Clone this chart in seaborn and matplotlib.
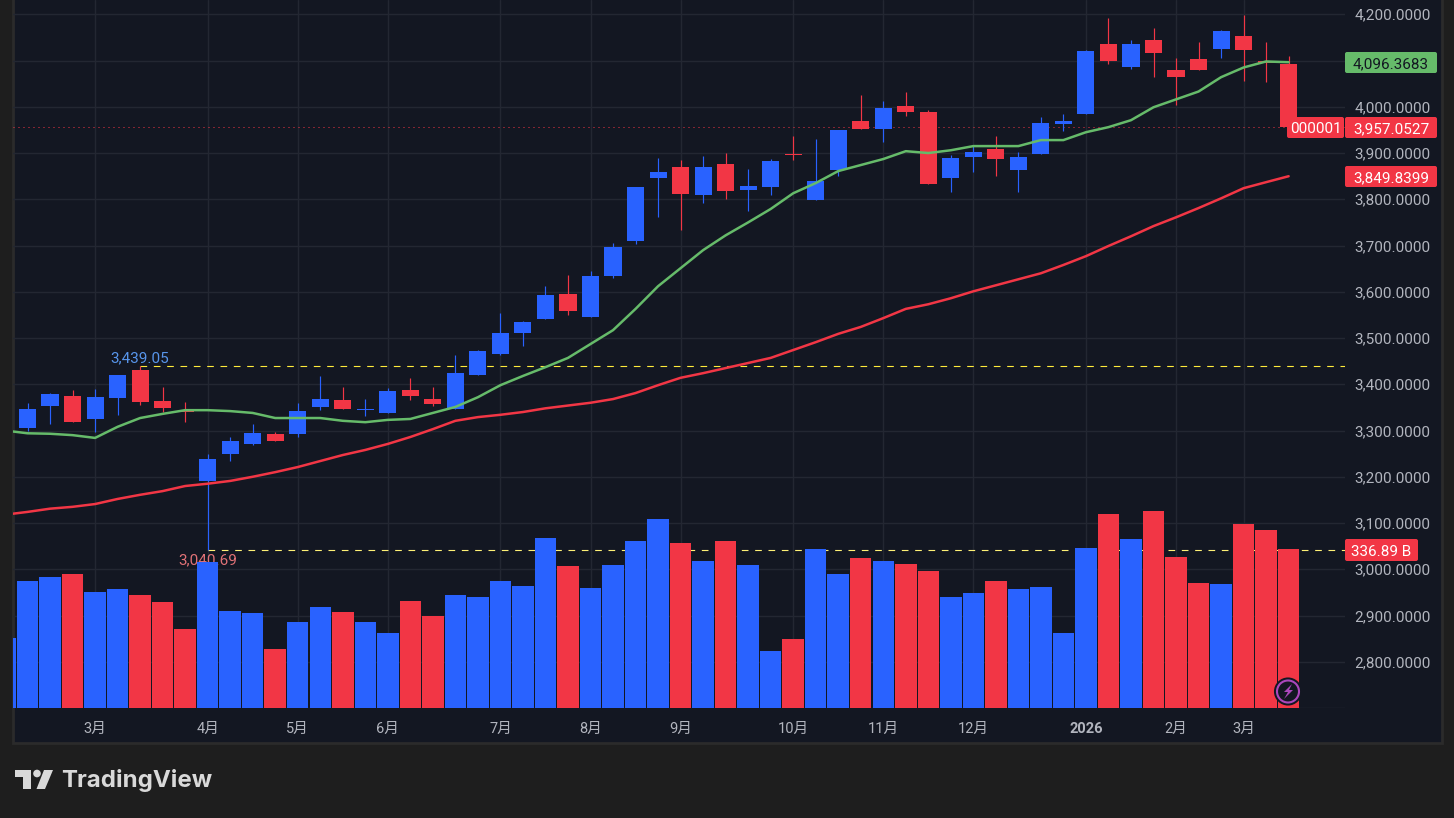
"""Weekly candlestick chart with two moving averages and volume (dark theme)."""
import matplotlib
matplotlib.use("Agg")  # headless-safe backend
import matplotlib.pyplot as plt
import numpy as np
import pandas as pd
import seaborn as sns
from matplotlib.patches import Circle, FancyBboxPatch, Polygon, Rectangle

# data
open_px = [3306, 3353, 3375, 3325, 3370, 3431, 3364, 3342, 3191, 3249, 3271, 3293, 3293, 3351, 3366,
           3345, 3338, 3388, 3368, 3347, 3420, 3465, 3511, 3541, 3595, 3545, 3634, 3709, 3846, 3869,
           3809, 3876, 3820, 3826, 3897, 3798, 3863, 3969, 3951, 4001, 3988, 3846, 3891, 3908, 3863,
           3897, 3962, 3984, 4135, 4087, 4144, 4079, 4103, 4126, 4152, 4098, 4092]
high_px = [3360, 3381, 3388, 3390, 3420, 3439.05, 3394, 3362, 3249, 3286, 3314, 3297, 3360, 3418, 3394,
           3368, 3392, 3414, 3394, 3463, 3475, 3554, 3537, 3612, 3636, 3645, 3705, 3826, 3889, 3884,
           3893, 3900, 3865, 3887, 3936, 3930, 3949, 4025, 4012, 4033, 3992, 3895, 3915, 3936, 3902,
           3977, 3984, 4122, 4191, 4144, 4170, 4105, 4141, 4167, 4198, 4141, 4109]
low_px = [3299, 3314, 3318, 3297, 3334, 3355, 3340, 3318, 3040.69, 3234, 3269, 3277, 3286, 3344, 3347,
          3331, 3338, 3366, 3353, 3347, 3420, 3463, 3483, 3541, 3550, 3545, 3630, 3703, 3761, 3733,
          3791, 3800, 3774, 3809, 3884, 3798, 3850, 3951, 3923, 3979, 3833, 3815, 3858, 3850, 3815,
          3897, 3947, 3984, 4092, 4081, 4064, 4003, 4079, 4105, 4055, 4053, 3957.05]
close_px = [3347, 3379, 3318, 3372, 3420, 3362, 3349, 3340, 3239, 3277, 3295, 3277, 3342, 3368, 3347,
            3346, 3385, 3375, 3357, 3424, 3472, 3511, 3534, 3593, 3558, 3634, 3696, 3826, 3858, 3811,
            3869, 3817, 3828, 3882, 3895, 3839, 3949, 3951, 3997, 3988, 3833, 3889, 3902, 3887, 3891,
            3964, 3969, 4120, 4100, 4135, 4116, 4064, 4079, 4163, 4122, 4094, 3957.05]
# these two also cover the partly hidden week before the first candle
ma_fast = [3300, 3294, 3293, 3290, 3284, 3308, 3327, 3336, 3344, 3344, 3342, 3338, 3327, 3327, 3327,
           3321, 3318, 3323, 3325, 3338, 3351, 3372, 3398, 3418, 3437, 3457, 3487, 3517, 3563, 3612,
           3651, 3690, 3722, 3750, 3779, 3813, 3835, 3861, 3874, 3887, 3904, 3900, 3906, 3915, 3915,
           3915, 3928, 3928, 3945, 3956, 3971, 3999, 4016, 4033, 4064, 4085, 4098, 4096.37]
ma_slow = [3118, 3124, 3131, 3135, 3141, 3152, 3161, 3169, 3180, 3185, 3191, 3200, 3210, 3221, 3234,
           3247, 3258, 3271, 3286, 3303, 3321, 3329, 3334, 3340, 3348, 3354, 3360, 3368, 3381, 3398,
           3414, 3424, 3435, 3446, 3457, 3474, 3491, 3509, 3524, 3543, 3563, 3573, 3586, 3601, 3614,
           3627, 3640, 3658, 3677, 3699, 3720, 3742, 3761, 3781, 3802, 3824, 3837, 3849.84]
volume_b = [148, 269, 278, 284, 246, 252, 239, 225, 167, 309, 206, 201, 125, 182, 214,
            203, 182, 159, 227, 195, 239, 235, 269, 259, 360, 301, 254, 303, 354, 400,
            350, 311, 354, 303, 121, 146, 337, 284, 318, 311, 305, 290, 235, 244, 269,
            252, 256, 159, 339, 411, 358, 417, 320, 265, 263, 390, 377, 336.89]
month_weeks = [3, 8, 12, 16, 21, 25, 29, 34, 38, 42, 47, 51, 54]
month_labels = ["3月", "4月", "5月", "6月", "7月", "8月", "9月", "10月", "11月", "12月", "2026", "2月", "3月"]
price_ticks = list(range(2700, 4300, 100))
hidden_ticks = [2700, 4100]  # no label at the bottom, 4,100 sits under the green tag

BG_OUT = "#1e1e1e"
BG_PANEL = "#131722"
BORDER = "#2b2b2b"
GRID = "#232732"
BLUE = "#2962ff"
RED = "#f23645"
GREEN = "#66bb6a"
LABEL = "#b2b5be"

W, H = 1454, 818

sns.set_theme(style="dark")
plt.rcParams["font.family"] = ["Roboto", "Noto Sans CJK SC", "DejaVu Sans"]

weeks = np.arange(len(open_px))
ma_weeks = np.arange(-1, len(open_px))
is_up = np.array(close_px) >= np.array(open_px)
vol_df = pd.DataFrame({
    "week": ma_weeks,
    "vol": volume_b,
    "side": ["up"] + ["up" if u else "down" for u in is_up],
})

fig = plt.figure(figsize=(W / 100, H / 100), dpi=100, facecolor=BG_OUT)

# panel behind everything, drawn in pixel coordinates
back = fig.add_axes([0, 0, 1, 1], zorder=0)
back.set_xlim(0, W)
back.set_ylim(H, 0)
back.axis("off")
back.add_patch(Rectangle((12.5, -2), 1429.5, 745, fc=BG_PANEL, ec=BORDER, lw=2))

rect = [13 / W, (H - 708) / H, 1332 / W, 708 / H]
x_lim = ((13 - 27.5) / 22.52, (1345 - 27.5) / 22.52)

ax = fig.add_axes(rect, zorder=1)
ax.set_facecolor("none")
ax.set_axisbelow(True)
ax.grid(True, color=GRID, lw=1)

ax.bar(weeks, np.abs(np.array(close_px) - np.array(open_px)),
       bottom=np.minimum(open_px, close_px), width=0.76,
       color=[BLUE if u else RED for u in is_up], linewidth=0, zorder=3)
ax.vlines(weeks, low_px, high_px, colors=[BLUE if u else RED for u in is_up], lw=0.85, zorder=3)

sns.lineplot(x=ma_weeks, y=ma_fast, color=GREEN, lw=1.8, ax=ax, zorder=4)
sns.lineplot(x=ma_weeks, y=ma_slow, color=RED, lw=1.8, ax=ax, zorder=4)

ax.hlines(close_px[-1], x_lim[0], x_lim[1], colors=RED, lw=0.72, linestyles=(0, (1, 4)), zorder=2)
ax.hlines(high_px[5], 5, x_lim[1], colors="#ffeb3b", lw=0.8, linestyles=(0, (6, 6)), zorder=2)
ax.hlines(low_px[8], 8, x_lim[1], colors="#fff176", lw=0.8, linestyles=(0, (6, 6)), zorder=2)
ax.text(5, 3456, "3,439.05", color="#5b9cf6", fontsize=11, ha="center", va="center", alpha=0.95)
ax.text(8, 3019, "3,040.69", color="#f77c80", fontsize=11, ha="center", va="center", alpha=0.9)

ax.set_xlim(x_lim)
ax.set_ylim(2701.3, 4230.9)
ax.set_xticks(month_weeks, month_labels)
ax.set_yticks(price_ticks, ["" if p in hidden_ticks else f"{p:,.4f}" for p in price_ticks])
ax.yaxis.tick_right()
ax.tick_params(axis="x", length=0, pad=10, labelsize=10.5, labelcolor=LABEL)
ax.tick_params(axis="y", length=0, pad=7, labelsize=11, labelcolor=LABEL)
ax.get_xticklabels()[month_labels.index("2026")].set_fontweight("bold")
for spine in ax.spines.values():
    spine.set_visible(False)

# volume sits above the candle axes and hides the grid and the low label
vol_ax = fig.add_axes(rect, zorder=2)
vol_ax.set_facecolor("none")
sns.barplot(data=vol_df, x="week", y="vol", hue="side", hue_order=["up", "down"],
            palette={"up": BLUE, "down": RED}, native_scale=True, dodge=False, width=0.955,
            saturation=1, errorbar=None, legend=False, linewidth=0, ax=vol_ax)
vol_ax.set_xlim(x_lim)
vol_ax.set_ylim(0, 1500.3)
vol_ax.axis("off")

# price tags, icon and logo
top = fig.add_axes([0, 0, 1, 1], zorder=3)
top.set_xlim(0, W)
top.set_ylim(H, 0)
top.axis("off")
top.patch.set_alpha(0)


def price_tag(x0, x1, y0, y1, text, fc, tc):
    top.add_patch(FancyBboxPatch((x0 + 1, y0 + 1), x1 - x0 - 2, y1 - y0 - 2,
                                 boxstyle="round,pad=1,rounding_size=2", fc=fc, ec="none"))
    top.text((x0 + x1) / 2, (y0 + y1) / 2, text, color=tc, fontsize=11, ha="center", va="center_baseline")


price_tag(1345, 1437, 52, 73, "4,096.3683", GREEN, "#131722")
price_tag(1345, 1437, 117, 138, "3,957.0527", RED, "white")
price_tag(1345, 1437, 166, 187, "3,849.8399", RED, "white")
price_tag(1287, 1344, 117, 138, "000001", RED, "white")
price_tag(1345, 1418, 539, 561, "336.89 B", RED, "white")

top.add_patch(Circle((1288, 691.5), 13, fc="#131722", ec="#131722", lw=1.5))
top.add_patch(Circle((1288, 691.5), 11, fc="none", ec="#ab47bc", lw=1.5))
top.add_patch(Polygon([(1292, 684), (1284, 692), (1288, 692), (1284, 699), (1293, 690), (1289, 690)],
                      fc="#ab47bc", ec="none"))

logo = "#d9d9d9"
top.add_patch(Polygon([(15, 770), (31, 770), (31, 789), (23, 789), (23, 777), (15, 777)], fc=logo, ec="none"))
top.add_patch(Circle((37, 773.5), 3.8, fc=logo, ec="none"))
top.add_patch(Polygon([(44, 770), (53, 770), (45, 789), (36.5, 789)], fc=logo, ec="none"))
top.text(61, 781, "TradingView", color=logo, fontsize=17.3, fontweight="bold",
         family="Inter", ha="left", va="center")

fig.savefig("out.png", dpi=100, facecolor=BG_OUT)
plt.close(fig)
